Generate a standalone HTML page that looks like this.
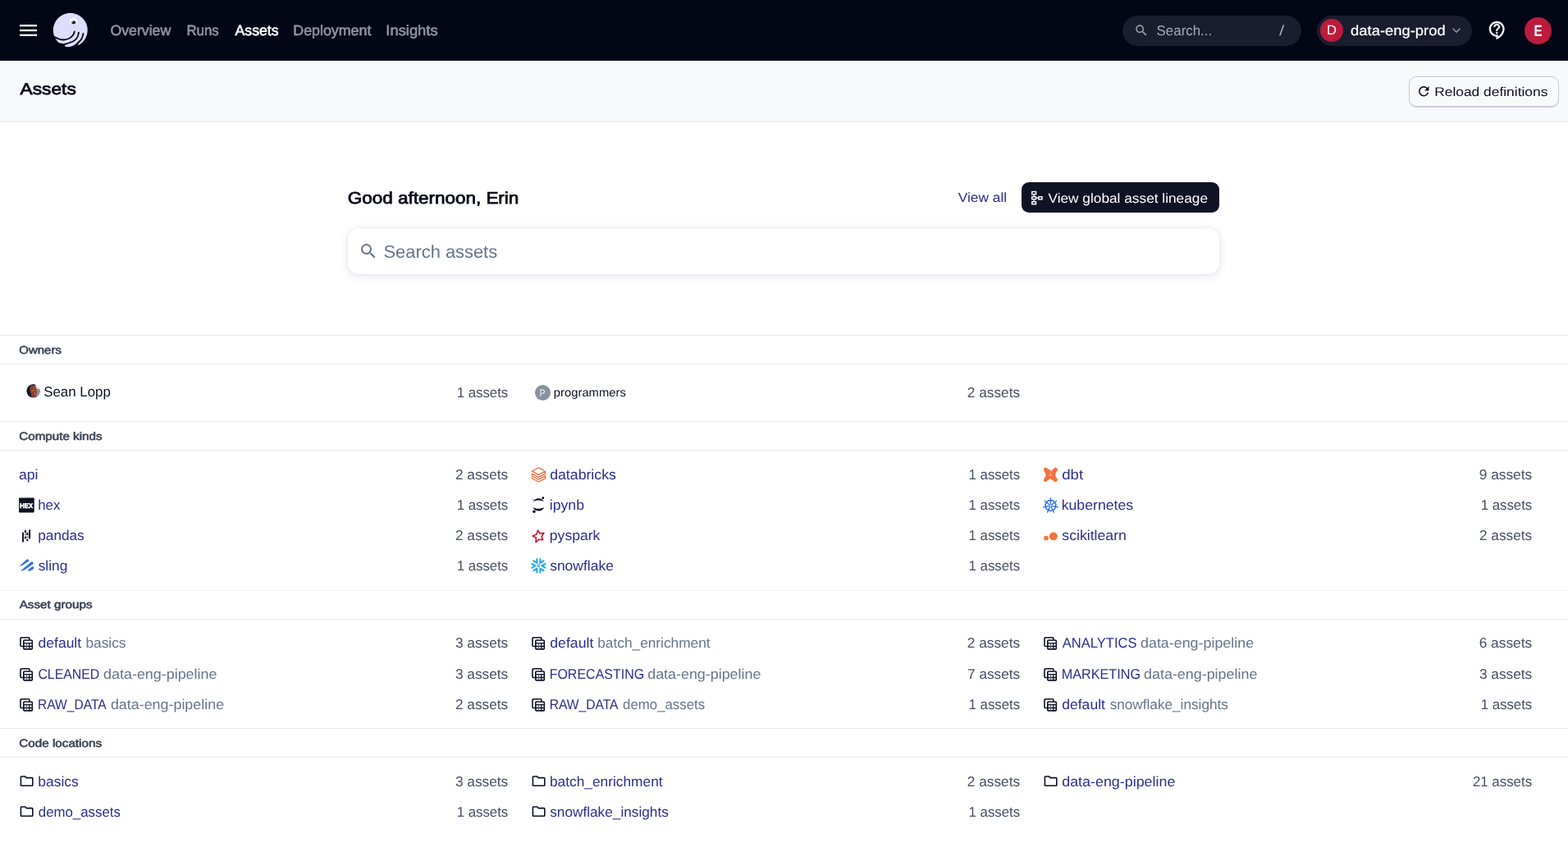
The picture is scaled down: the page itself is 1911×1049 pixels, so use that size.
<!DOCTYPE html>
<html lang="en">
<head>
<meta charset="utf-8">
<title>Assets | Dagster</title>
<style>
*{box-sizing:border-box;margin:0;padding:0}
html,body{width:1911px;height:1049px;overflow:hidden;background:#fff}
body{font-family:"Liberation Sans",sans-serif;font-size:17.2px;line-height:20px;color:#030615;position:relative;text-rendering:geometricPrecision}
a{text-decoration:none;color:inherit}
ul{list-style:none}
svg{display:block;overflow:visible}
.sprite{position:absolute;width:0;height:0;overflow:hidden}
.t{position:absolute;white-space:nowrap;line-height:20px;font-weight:400;font-style:normal;transform-origin:0 50%}

/* ---------- top navigation ---------- */
.topnav{position:absolute;left:0;top:0;width:1911px;height:74px;background:#030615;color:#fff}
.topnav .menu{position:absolute;left:24px;top:30px;width:21px;height:14px;fill:#fff}
.topnav .logo{position:absolute;left:56px;top:8px;width:60px;height:58px}
.navlinks li{font-size:17.7px;color:#8f93a2;-webkit-text-stroke:0.6px currentColor}
.navlinks li.on{color:#fff}
.navsearch{position:absolute;left:1368px;top:19px;width:218px;height:37px;border-radius:19px;background:#1a1d2e;color:#a5a9b9}
.navsearch svg{position:absolute;left:13.7px;top:9.3px;width:18.1px;height:18.1px;fill:#a3a6b1}
.navsearch .t{font-size:17.2px}
.deploy{position:absolute;left:1605px;top:19px;width:189px;height:37px;border-radius:19px;background:#1a1d2e}
.deploy .dot{position:absolute;left:4px;top:4px;width:28px;height:28px;border-radius:50%;background:#bd1b3d}
.deploy .dot .t{font-size:16.3px;-webkit-text-stroke:0}
.deploy .t{font-size:17.1px;color:#fff;-webkit-text-stroke:0.2px currentColor}
.deploy svg{position:absolute;left:160px;top:8px;width:20px;height:20px;fill:#8d909d}
.help{position:absolute;left:1813.05px;top:25.2px;width:23.4px;height:23.4px;fill:#fff;stroke:#fff;stroke-width:0.35px}
.me{position:absolute;left:1858px;top:21px;width:33px;height:33px;border-radius:50%;background:#bd1b3d;color:#fff}
.me .t{font-size:19.3px;font-weight:700}

/* ---------- page header ---------- */
.pagehead{position:absolute;left:0;top:74px;width:1911px;height:75px;background:#f8f9fb;border-bottom:2px solid #eff0f4}
.pagehead h1{font-size:19.8px;font-weight:400;color:#030615;-webkit-text-stroke:0.75px currentColor}
.btn{position:absolute;border-radius:9px;font-size:16.3px}
.btn.outline{left:1717px;top:19px;width:183px;height:37px;border:1px solid #c6cad8;box-shadow:0 1px 0 rgba(110,118,150,.35);color:#0c0f22}
.btn.outline svg{position:absolute;left:8.3px;top:8.2px;width:18.6px;height:18.6px;fill:#0c0f22}
.btn .t{font-size:16.3px}
.btn.outline .t{font-size:15.4px}

/* ---------- hero ---------- */
.hero{position:absolute;left:424px;top:222px;width:1062px;height:112px}
.hero h2{font-size:20.2px;font-weight:400;-webkit-text-stroke:0.75px currentColor}
.hero .viewall{font-size:16.1px;color:#2c2d8c}
.btn.dark{left:821px;top:0;width:241px;height:37px;background:#0f1325;color:#fff}
.btn.dark svg{position:absolute;left:11px;top:9.5px;width:18px;height:18px;fill:#fff}
.searchbox{position:absolute;left:0;top:56px;width:1062px;height:56px;border-radius:13px;background:#fff;box-shadow:0 0 3px rgba(40,50,90,.07),0 2px 11px rgba(40,50,90,.13)}
.searchbox svg{position:absolute;left:13px;top:16px;width:24px;height:24px;fill:#67748a}
.searchbox .t{font-size:21.6px;color:#67748a}

/* ---------- sections ---------- */
.sec{position:absolute;left:0;width:1911px}
.sec h3{position:relative;height:36px;border-top:1px solid #e8e9ee;border-bottom:1px solid #e8e9ee;font-size:13.6px;font-weight:400}
.sec h3 .t{font-size:13.5px;font-weight:400;color:#3d4457;-webkit-text-stroke:0.6px currentColor}
.grid{position:relative}
.grid li{position:absolute;width:595px;height:37px}
.grid li .ic{position:absolute;left:-2px;top:8.5px;width:20px;height:20px}
.grid li .ic.folder{left:-1.1px;top:9.1px;width:19.2px;height:19.2px;fill:#0c0f22}
.grid li a{color:#2c2d8c}
.grid li a.pair{position:absolute;left:0;top:0}
.grid li a i{color:#67748a}
.grid li .n{color:#474e62}
.owner{color:#0c0f22;font-size:17.1px}
.owner.small{font-size:14.4px}
.avatar{position:absolute;border-radius:50%;overflow:hidden}
.avatar.p{background:#8b90a1;overflow:visible}
.avatar.p .t{color:#eef0f5;font-size:12.3px}
</style>
</head>
<body>
<svg class="sprite" aria-hidden="true" width="0" height="0">
<symbol id="i-menu" viewBox="0 0 24 24"><path d="M3 18h18v-2H3v2zm0-5h18v-2H3v2zm0-7v2h18V6H3z"/></symbol>
<symbol id="i-search" viewBox="0 0 24 24"><path d="M15.500 14h-.790l-.280-.270A6.471 6.471 0 0 0 16 9.500 6.500 6.500 0 1 0 9.500 16c1.610 0 3.090-.590 4.230-1.570l.270.280v.790l5 4.990L20.490 19l-4.990-5zm-6 0C7.010 14 5 11.990 5 9.500S7.010 5 9.500 5 14 7.010 14 9.500 11.990 14 9.500 14z"/></symbol>
<symbol id="i-refresh" viewBox="0 0 24 24"><path d="M17.650 6.350A7.958 7.958 0 0 0 12 4c-4.420 0-7.990 3.580-7.990 8s3.570 8 7.990 8c3.730 0 6.840-2.550 7.730-6h-2.080A5.990 5.990 0 0 1 12 18c-3.310 0-6-2.690-6-6s2.690-6 6-6c1.660 0 3.140.690 4.220 1.780L13 11h7V4l-2.350 2.350z"/></symbol>
<symbol id="i-chev" viewBox="0 0 24 24"><path d="M7.410 8.590 12 13.170l4.590-4.580L18 10l-6 6-6-6 1.410-1.410z"/></symbol>
<symbol id="i-help" viewBox="0 0 24 24"><path d="M11 23.590v-3.600c-5.010-.260-9-4.420-9-9.490C2 5.260 6.260 1 11.500 1S21 5.260 21 10.500c0 4.950-3.440 9.930-8.570 12.400l-1.430.690zM11.500 3C7.360 3 4 6.360 4 10.500S7.360 18 11.500 18H13v2.300c3.640-2.300 6-6.080 6-9.800C19 6.360 15.640 3 11.500 3zm-1 11.500h2v2h-2zm2-1.500h-2c0-3.250 3-3 3-5 0-1.100-.900-2-2-2s-2 .900-2 2h-2c0-2.210 1.790-4 4-4s4 1.790 4 4c0 2.500-3 2.750-3 5z"/></symbol>
<symbol id="i-folder" viewBox="0 0 24 24"><path d="M9.170 6l2 2H20v10H4V6h5.170M10 4H4c-1.100 0-1.990.900-1.990 2L2 18c0 1.100.900 2 2 2h16c1.100 0 2-.900 2-2V8c0-1.100-.900-2-2-2h-8l-2-2z"/></symbol>
<symbol id="i-group" viewBox="0 0 20 20"><g fill="none" stroke="#0c0f22" stroke-linejoin="round" transform="translate(0.6 0)"><path stroke-width="1.600" stroke-linecap="round" d="M4.900 13.500H3.400A1 1 0 0 1 2.400 12.500V3.700A1 1 0 0 1 3.400 2.700H12.300A1 1 0 0 1 13.300 3.700V5"/><rect x="6.200" y="6" width="10.500" height="10.900" rx="1" stroke-width="1.600"/><path stroke-width="1.300" d="M6.200 9.700H16.700M6.200 13.500H16.700M13.200 9.700V16.900"/><path stroke-width="1.200" stroke="#5d6579" d="M10 9.700V16.900"/></g></symbol>
<symbol id="i-lineage" viewBox="0 0 18 18"><g fill="none" stroke="#fff" stroke-width="1.450"><rect x="1.750" y="1.550" width="4.800" height="3.200"/><rect x="1.750" y="7.750" width="4.800" height="3"/><rect x="1.750" y="13.850" width="4.800" height="2.900"/><rect x="9.850" y="7.750" width="4.100" height="3.200"/><path d="M4.150 5.400V7.100M4.150 11.400V13.200M7.200 9.300H9.200"/></g></symbol>
</svg>
<nav class="topnav">
<svg class="menu" viewBox="0 0 21 14"><rect width="21" height="2.330"/><rect y="5.830" width="21" height="2.340"/><rect y="11.670" width="21" height="2.330"/></svg>
<svg class="logo" viewBox="0 0 1085 1049" aria-label="Dagster">
<circle cx="538" cy="520" r="379" fill="#dddefb"/>
<g fill="none" stroke="#030615" stroke-linecap="round" stroke-width="33">
<path d="M631 552C612 646 520 728 400 733 330 735 255 708 190 668"/>
<path d="M722 572C715 680 640 770 517 799"/>
<path d="M822 595C812 690 770 750 703 802"/>
</g>
<g fill="#030615">
<path d="M517 787 390 817 290 800 228 772 160 760V905H417L412 870 426 844 517 814z"/>
<path d="M703 788 608 860 517 893 432 899V960H780L750 866 722 859 704 836 722 808z"/>
</g>
<ellipse cx="606" cy="326" rx="84" ry="76" fill="#fff"/>
<ellipse cx="610" cy="351" rx="46" ry="39" fill="#1b1e3a"/>
<circle cx="588" cy="330" r="13" fill="#cfd1e6"/>
</svg>
<ul class="navlinks">
<li id="nv1" class="t" style="left:134px;top:27px;transform:translateX(0.41px) scaleX(1.0012)">Overview</li>
<li id="nv2" class="t" style="left:227px;top:27px;transform:translateX(0.39px) scaleX(0.9532)">Runs</li>
<li id="nv3" class="t on" style="left:286px;top:27px;transform:translateX(0.60px) scaleX(0.9977)">Assets</li>
<li id="nv4" class="t" style="left:357px;top:27px;transform:translateX(0.30px) scaleX(1.0071)">Deployment</li>
<li id="nv5" class="t" style="left:470px;top:27px;transform:translateX(0.34px) scaleX(1.0376)">Insights</li>
</ul>
<div class="navsearch"><svg><use href="#i-search"/></svg><span id="ns1" class="t" style="left:41px;top:8px;transform:translateX(0.61px) scaleX(0.9817)">Search...</span><span id="ns2" class="t" style="left:191px;top:8px;transform:translateX(0.03px) scaleX(1.3080)">/</span></div>
<div class="deploy"><span class="dot"><span id="dpD" class="t dl" style="left:7px;top:4px;transform:translateX(0.97px) scaleX(1.0212)">D</span></span><span id="dp1" class="t" style="left:41px;top:9px;transform:translateX(0.10px) scaleX(1.0762)">data-eng-prod</span><svg><use href="#i-chev"/></svg></div>
<svg class="help"><use href="#i-help"/></svg>
<div class="me"><span id="meE" class="t" style="left:11px;top:8px;transform:translateX(0.52px) scaleX(0.7891)">E</span></div>
</nav>
<header class="pagehead">
<h1 id="ph1" class="t" style="left:24px;top:25px;transform:translateX(0.55px) scaleX(1.1488)">Assets</h1>
<div class="btn outline"><svg><use href="#i-refresh"/></svg><span id="ph2" class="t" style="left:30px;top:9px;transform:translateX(0.20px) scaleX(1.1292)">Reload definitions</span></div>
</header>
<main>
<section class="hero">
<h2 id="hr1" class="t" style="left:-1px;top:10px;transform:translateX(0.75px) scaleX(1.1130)">Good afternoon, Erin</h2>
<a id="hr2" class="t viewall" style="left:743px;top:9px;transform:translateX(0.78px) scaleX(1.0752)">View all</a>
<div class="btn dark"><svg><use href="#i-lineage"/></svg><span id="hr3" class="t" style="left:32px;top:10px;transform:translateX(0.45px) scaleX(1.0607)">View global asset lineage</span></div>
<div class="searchbox"><svg><use href="#i-search"/></svg><span id="hr4" class="t" style="left:43px;top:19px;transform:translateX(0.52px) scaleX(1.0129)">Search assets</span></div>
</section>
<section class="sec" style="top:408px"><h3><span id="sh1" class="t" style="left:23px;top:8px;transform:translateX(0.29px) scaleX(1.1101)">Owners</span></h3>
<ul class="grid owners">
<li style="left:24px;top:15px"><svg class="avatar" viewBox="0 0 17 17" style="left:8.100px;top:9.100px;width:17px;height:16.700px"><defs><clipPath id="av"><circle cx="8.500" cy="8.500" r="8.400"/></clipPath></defs><g clip-path="url(#av)"><rect width="17" height="17" fill="#10152a"/><path d="M10.500 0H17V15L12 17 11 12z" fill="#8c94a8"/><path d="M11.500 0H17V6.200L13.400 5.600 11.600 3z" fill="#f4f5f9"/><path d="M4 6Q4 1 8.500 1.200 12 1.500 12.500 6L13.500 11 11 14V17H6.500L6 12 4.500 9z" fill="#8c4032"/><path d="M7 5.200 11.500 4.500 13 5.400H7z" fill="#f07a3a"/><circle cx="7.600" cy="8" r="0.800" fill="#f08040"/><circle cx="9.700" cy="7.200" r="0.700" fill="#f08040"/><circle cx="11.500" cy="8" r="0.700" fill="#f08040"/><rect x="7.300" y="6" width="1" height="0.900" fill="#1d2236"/><rect x="10.300" y="6" width="1" height="0.900" fill="#1d2236"/><circle cx="10.400" cy="11.300" r="0.700" fill="#f2b8a8"/></g></svg><span id="ow1" class="t owner" style="left:29px;top:9px;transform:translateX(0.23px) scaleX(0.9870)">Sean Lopp</span><span id="oc1" class="t n" style="left:532px;top:9px;transform:translateX(0.63px) scaleX(0.9777)">1 assets</span></li>
<li style="left:648px;top:15px"><span class="avatar p" style="left:3.800px;top:9.500px;width:19px;height:19px"><span id="owP" class="t" style="left:5px;top:0px;transform:translateX(0.50px) scaleX(0.8525)">P</span></span><span id="ow2" class="t owner small" style="left:26px;top:10px;transform:translateX(0.87px) scaleX(1.0275)">programmers</span><span id="oc2" class="t n" style="left:530px;top:9px;transform:translateX(0.85px) scaleX(1.0030)">2 assets</span></li>
</ul></section>
<section class="sec" style="top:513px"><h3><span id="sh2" class="t" style="left:23px;top:8px;transform:translateX(0.29px) scaleX(1.1244)">Compute kinds</span></h3>
<ul class="grid">
<li style="left:24px;top:11px"><a id="ck00" class="t" style="left:-2px;top:8px;transform:translateX(0.94px) scaleX(1.0255)">api</a><span id="ck00n" class="t n" style="left:530px;top:8px;transform:translateX(0.97px) scaleX(1.0027)">2 assets</span></li>
<li style="left:648px;top:11px"><svg class="ic" viewBox="0 0 20 20"><path fill="none" stroke="#ee6433" stroke-width="1.250" stroke-linejoin="round" d="M16.900 4.100 10.400 0.700 2.200 5 10.400 9.400 18.600 5V8.100L10.400 12.400 2.500 8.200V11L10.400 15.100 18.600 10.900V13.900L10.400 18 2.400 13.700V12.500"/></svg><a id="ck01" class="t" style="left:22px;top:8px;transform:translateX(0.17px) scaleX(1.0300)">databricks</a><span id="ck01n" class="t n" style="left:532px;top:8px;transform:translateX(0.61px) scaleX(0.9757)">1 assets</span></li>
<li style="left:1272px;top:11px"><svg class="ic" viewBox="0 0 20 20"><path fill="#f4703f" stroke="#f4703f" stroke-width="0.700" stroke-linejoin="round" d="M4.01 0.84 5.34 1.50 8.01 3.11 10.41 4.44 11.88 6.18 12.55 3.77 14.68 1.91 16.68 0.84 18.42 2.31 18.68 3.51 17.22 6.18 16.15 8.04 15.88 9.91 16.68 12.05 18.42 14.72 18.68 16.18 16.95 18.18 14.68 16.98 12.01 15.12 9.88 14.05 8.41 13.91 7.74 15.65 5.87 16.72 4.01 17.92 2.54 16.98 2.27 15.78 3.61 13.11 4.67 11.51 4.94 9.91 4.41 7.78 3.07 5.11 2.27 3.11 2.62 1.58z"/><path fill="#fff" d="M9.100 9.900 10.500 8.500 11.400 10.200 10.300 10.600z"/></svg><a id="ck02" class="t" style="left:22px;top:8px;transform:translateX(0.15px) scaleX(1.0851)">dbt</a><span id="ck02n" class="t n" style="left:530px;top:8px;transform:translateX(0.73px) scaleX(1.0072)">9 assets</span></li>
<li style="left:24px;top:48px"><svg class="ic" viewBox="0 0 20 20"><rect x="1.100" y="0.400" width="18.600" height="18.100" rx="0.900" fill="#0d1021"/><text x="10.150" y="13.150" text-anchor="middle" font-family="Liberation Sans, sans-serif" font-weight="700" font-size="8.200" textLength="15.600" lengthAdjust="spacingAndGlyphs" fill="#fff" stroke="#fff" stroke-width="0.550">HEX</text></svg><a id="ck10" class="t" style="left:22px;top:8px;transform:translateX(0.26px) scaleX(0.9790)">hex</a><span id="ck10n" class="t n" style="left:532px;top:8px;transform:translateX(0.63px) scaleX(0.9777)">1 assets</span></li>
<li style="left:648px;top:48px"><svg class="ic" viewBox="0 0 20 20"><g fill="#05061a" transform="translate(0 -0.4)"><path d="M3.600 5.900C5.200 3 7.700 1.600 10.400 1.600s5.200 1.400 6.800 4.300C15.200 4.500 12.900 3.900 10.400 3.900S5.600 4.500 3.600 5.900z"/><path d="M3.400 12.300C5 15.400 7.600 16.900 10.400 16.900s5.400-1.500 7-4.600C15.400 13.500 13 14.100 10.400 14.100s-5-.6-7-1.800z"/><circle cx="15.750" cy="1.150" r="1.400"/><circle cx="4.950" cy="17.650" r="1.700"/></g><circle cx="3.750" cy="2.600" r="0.950" fill="#767e92"/></svg><a id="ck11" class="t" style="left:21px;top:8px;transform:translateX(0.82px) scaleX(1.0250)">ipynb</a><span id="ck11n" class="t n" style="left:532px;top:8px;transform:translateX(0.61px) scaleX(0.9757)">1 assets</span></li>
<li style="left:1272px;top:48px"><svg class="ic" viewBox="0 0 20 20"><g fill="none" stroke="#2d6ee2" stroke-linecap="round" stroke-linejoin="round"><polygon stroke-width="1.500" points="7.49,3.86 3.87,8.41 5.16,14.08 10.40,16.60 15.64,14.08 16.93,8.41 13.31,3.86"/><path stroke-width="1.300" d="M10.40 8.30L10.40 0.70M9.15 8.90L3.21 4.16M8.84 10.26L1.43 11.95M9.71 11.34L6.41 18.19M11.09 11.34L14.39 18.19M11.96 10.26L19.37 11.95M11.65 8.90L17.59 4.16"/></g></svg><a id="ck12" class="t" style="left:21px;top:8px;transform:translateX(0.67px) scaleX(1.0289)">kubernetes</a><span id="ck12n" class="t n" style="left:532px;top:8px;transform:translateX(0.63px) scaleX(0.9777)">1 assets</span></li>
<li style="left:24px;top:85px"><svg class="ic" viewBox="0 0 20 20"><g fill="#0b0c1f"><rect x="5.050" y="5.600" width="1.900" height="11.900"/><rect x="13.100" y="2.300" width="2" height="11.100"/><rect x="7.900" y="2.800" width="2" height="3.400"/><rect x="7.900" y="10.600" width="2" height="2.800"/><rect x="10.400" y="5.800" width="1.900" height="3.400"/><rect x="10.400" y="13.600" width="1.900" height="2.700"/></g><rect x="7.900" y="7.600" width="2" height="1.500" fill="#5b6378"/><rect x="10.400" y="10.700" width="1.900" height="1.300" fill="#2a2f45"/></svg><a id="ck20" class="t" style="left:22px;top:8px;transform:translateX(0.28px) scaleX(1.0002)">pandas</a><span id="ck20n" class="t n" style="left:530px;top:8px;transform:translateX(0.97px) scaleX(1.0027)">2 assets</span></li>
<li style="left:648px;top:85px"><svg class="ic" viewBox="0 0 20 20"><path fill="none" stroke="#cc1a2f" stroke-width="1.650" stroke-linejoin="round" d="M9.600 3.100 12 7 16.900 6.400 14 10.500 15.600 14.600 10.900 14.200 7.100 17.600 7.300 12 3.200 9.900 7.800 8z"/></svg><a id="ck21" class="t" style="left:21px;top:8px;transform:translateX(0.82px) scaleX(1.0235)">pyspark</a><span id="ck21n" class="t n" style="left:532px;top:8px;transform:translateX(0.61px) scaleX(0.9757)">1 assets</span></li>
<li style="left:1272px;top:85px"><svg class="ic" viewBox="0 0 20 20"><g fill="#f4723e"><circle cx="4.950" cy="12.600" r="2.900"/><ellipse cx="13.900" cy="10.450" rx="4.950" ry="4.850"/></g></svg><a id="ck22" class="t" style="left:22px;top:8px;transform:translateX(0.31px) scaleX(1.0285)">scikitlearn</a><span id="ck22n" class="t n" style="left:530px;top:8px;transform:translateX(0.97px) scaleX(1.0027)">2 assets</span></li>
<li style="left:24px;top:122px"><svg class="ic" viewBox="0 0 20 20"><g fill="#2a6fe8" transform="translate(0 -0.9)"><path d="M1.700 10.600 10.400 2.600a1.650 1.650 0 0 1 2.500 2.100L5.400 9.600z"/><path d="M2.700 16.600 16 5.600a1.650 1.650 0 0 1 2.400 2.200L7.800 15.400z"/><path d="M11.300 16.500 16.700 11.500a1.650 1.650 0 0 1 2.300 2.300L15 16.500z"/></g></svg><a id="ck30" class="t" style="left:22px;top:8px;transform:translateX(0.71px) scaleX(1.0062)">sling</a><span id="ck30n" class="t n" style="left:532px;top:8px;transform:translateX(0.63px) scaleX(0.9777)">1 assets</span></li>
<li style="left:648px;top:122px"><svg class="ic" viewBox="0 0 20 20"><g fill="none" stroke="#2bace8" stroke-linecap="round" stroke-linejoin="round" transform="translate(0 -0.6)"><path stroke-width="2.250" d="M18.38 12.20L14.40 9.90M18.38 7.60L14.40 9.90M16.38 4.14L12.40 6.44M12.40 1.84L12.40 6.44M8.40 1.84L8.40 6.44M4.42 4.14L8.40 6.44M2.42 7.60L6.40 9.90M2.42 12.20L6.40 9.90M4.42 15.66L8.40 13.36M8.40 17.96L8.40 13.36M12.40 17.96L12.40 13.36M16.38 15.66L12.40 13.36"/><circle cx="10.400" cy="9.950" r="1.450" stroke-width="1.200"/></g></svg><a id="ck31" class="t" style="left:22px;top:8px;transform:translateX(0.13px) scaleX(1.0178)">snowflake</a><span id="ck31n" class="t n" style="left:532px;top:8px;transform:translateX(0.61px) scaleX(0.9757)">1 assets</span></li>
</ul></section>
<section class="sec" style="top:719px"><h3 style="border-top-color:#f0f1f5"><span id="sh3" class="t" style="left:23px;top:7px;transform:translateX(0.71px) scaleX(1.1282)">Asset groups</span></h3>
<ul class="grid">
<li style="left:24px;top:10px"><svg class="ic"><use href="#i-group"/></svg><a class="pair"><b id="ag00g" class="t" style="left:22px;top:8px;transform:translateX(0.56px) scaleX(1.0184)">default</b> <i id="ag00r" class="t" style="left:80px;top:8px;transform:translateX(0.38px) scaleX(1.0091)">basics</i></a><span id="ag00n" class="t n" style="left:530px;top:8px;transform:translateX(0.88px) scaleX(1.0054)">3 assets</span></li>
<li style="left:648px;top:10px"><svg class="ic"><use href="#i-group"/></svg><a class="pair"><b id="ag01g" class="t" style="left:22px;top:8px;transform:translateX(0.29px) scaleX(1.0286)">default</b> <i id="ag01r" class="t" style="left:80px;top:8px;transform:translateX(0.23px) scaleX(1.0057)">batch_enrichment</i></a><span id="ag01n" class="t n" style="left:530px;top:8px;transform:translateX(0.85px) scaleX(1.0030)">2 assets</span></li>
<li style="left:1272px;top:10px"><svg class="ic"><use href="#i-group"/></svg><a class="pair"><b id="ag02g" class="t" style="left:22px;top:8px;transform:translateX(0.76px) scaleX(0.9630)">ANALYTICS</b> <i id="ag02r" class="t" style="left:118px;top:8px;transform:translateX(0.02px) scaleX(1.0393)">data-eng-pipeline</i></a><span id="ag02n" class="t n" style="left:530px;top:8px;transform:translateX(0.66px) scaleX(1.0091)">6 assets</span></li>
<li style="left:24px;top:48px"><svg class="ic"><use href="#i-group"/></svg><a class="pair"><b id="ag10g" class="t" style="left:22px;top:8px;transform:translateX(0.38px) scaleX(0.9232)">CLEANED</b> <i id="ag10r" class="t" style="left:102px;top:8px;transform:translateX(0.08px) scaleX(1.0415)">data-eng-pipeline</i></a><span id="ag10n" class="t n" style="left:530px;top:8px;transform:translateX(0.88px) scaleX(1.0054)">3 assets</span></li>
<li style="left:648px;top:48px"><svg class="ic"><use href="#i-group"/></svg><a class="pair"><b id="ag11g" class="t" style="left:21px;top:8px;transform:translateX(0.63px) scaleX(0.9309)">FORECASTING</b> <i id="ag11r" class="t" style="left:141px;top:8px;transform:translateX(0.22px) scaleX(1.0402)">data-eng-pipeline</i></a><span id="ag11n" class="t n" style="left:531px;top:8px;transform:translateX(0.03px) scaleX(1.0014)">7 assets</span></li>
<li style="left:1272px;top:48px"><svg class="ic"><use href="#i-group"/></svg><a class="pair"><b id="ag12g" class="t" style="left:21px;top:8px;transform:translateX(0.65px) scaleX(0.9435)">MARKETING</b> <i id="ag12r" class="t" style="left:122px;top:8px;transform:translateX(0.08px) scaleX(1.0408)">data-eng-pipeline</i></a><span id="ag12n" class="t n" style="left:530px;top:8px;transform:translateX(0.88px) scaleX(1.0054)">3 assets</span></li>
<li style="left:24px;top:85px"><svg class="ic"><use href="#i-group"/></svg><a class="pair"><b id="ag20g" class="t" style="left:22px;top:8px;transform:translateX(0.07px) scaleX(0.9054)">RAW_DATA</b> <i id="ag20r" class="t" style="left:110px;top:8px;transform:translateX(0.90px) scaleX(1.0405)">data-eng-pipeline</i></a><span id="ag20n" class="t n" style="left:530px;top:8px;transform:translateX(0.97px) scaleX(1.0027)">2 assets</span></li>
<li style="left:648px;top:85px"><svg class="ic"><use href="#i-group"/></svg><a class="pair"><b id="ag21g" class="t" style="left:21px;top:8px;transform:translateX(0.71px) scaleX(0.9069)">RAW_DATA</b> <i id="ag21r" class="t" style="left:111px;top:8px;transform:translateX(0.12px) scaleX(0.9775)">demo_assets</i></a><span id="ag21n" class="t n" style="left:532px;top:8px;transform:translateX(0.61px) scaleX(0.9757)">1 assets</span></li>
<li style="left:1272px;top:85px"><svg class="ic"><use href="#i-group"/></svg><a class="pair"><b id="ag22g" class="t" style="left:22px;top:8px;transform:translateX(0.23px) scaleX(1.0208)">default</b> <i id="ag22r" class="t" style="left:80px;top:8px;transform:translateX(0.63px) scaleX(0.9998)">snowflake_insights</i></a><span id="ag22n" class="t n" style="left:532px;top:8px;transform:translateX(0.63px) scaleX(0.9777)">1 assets</span></li>
</ul></section>
<section class="sec" style="top:887px"><h3><span id="sh4" class="t" style="left:23px;top:8px;transform:translateX(0.34px) scaleX(1.1273)">Code locations</span></h3>
<ul class="grid">
<li style="left:24px;top:10px"><svg class="ic folder"><use href="#i-folder"/></svg><a id="cl00" class="t" style="left:22px;top:9px;transform:translateX(0.28px) scaleX(1.0170)">basics</a><span id="cl00n" class="t n" style="left:530px;top:9px;transform:translateX(0.88px) scaleX(1.0054)">3 assets</span></li>
<li style="left:648px;top:10px"><svg class="ic folder"><use href="#i-folder"/></svg><a id="cl01" class="t" style="left:21px;top:9px;transform:translateX(0.94px) scaleX(1.0077)">batch_enrichment</a><span id="cl01n" class="t n" style="left:530px;top:9px;transform:translateX(0.85px) scaleX(1.0030)">2 assets</span></li>
<li style="left:1272px;top:10px"><svg class="ic folder"><use href="#i-folder"/></svg><a id="cl02" class="t" style="left:22px;top:9px;transform:translateX(0.20px) scaleX(1.0405)">data-eng-pipeline</a><span id="cl02n" class="t n" style="left:522px;top:9px;transform:translateX(0.96px) scaleX(0.9799)">21 assets</span></li>
<li style="left:24px;top:47px"><svg class="ic folder"><use href="#i-folder"/></svg><a id="cl10" class="t" style="left:22px;top:9px;transform:translateX(0.81px) scaleX(0.9783)">demo_assets</a><span id="cl10n" class="t n" style="left:532px;top:9px;transform:translateX(0.63px) scaleX(0.9777)">1 assets</span></li>
<li style="left:648px;top:47px"><svg class="ic folder"><use href="#i-folder"/></svg><a id="cl11" class="t" style="left:22px;top:9px;transform:translateX(0.20px) scaleX(1.0024)">snowflake_insights</a><span id="cl11n" class="t n" style="left:532px;top:9px;transform:translateX(0.61px) scaleX(0.9757)">1 assets</span></li>
</ul></section>
</main>
</body>
</html>
